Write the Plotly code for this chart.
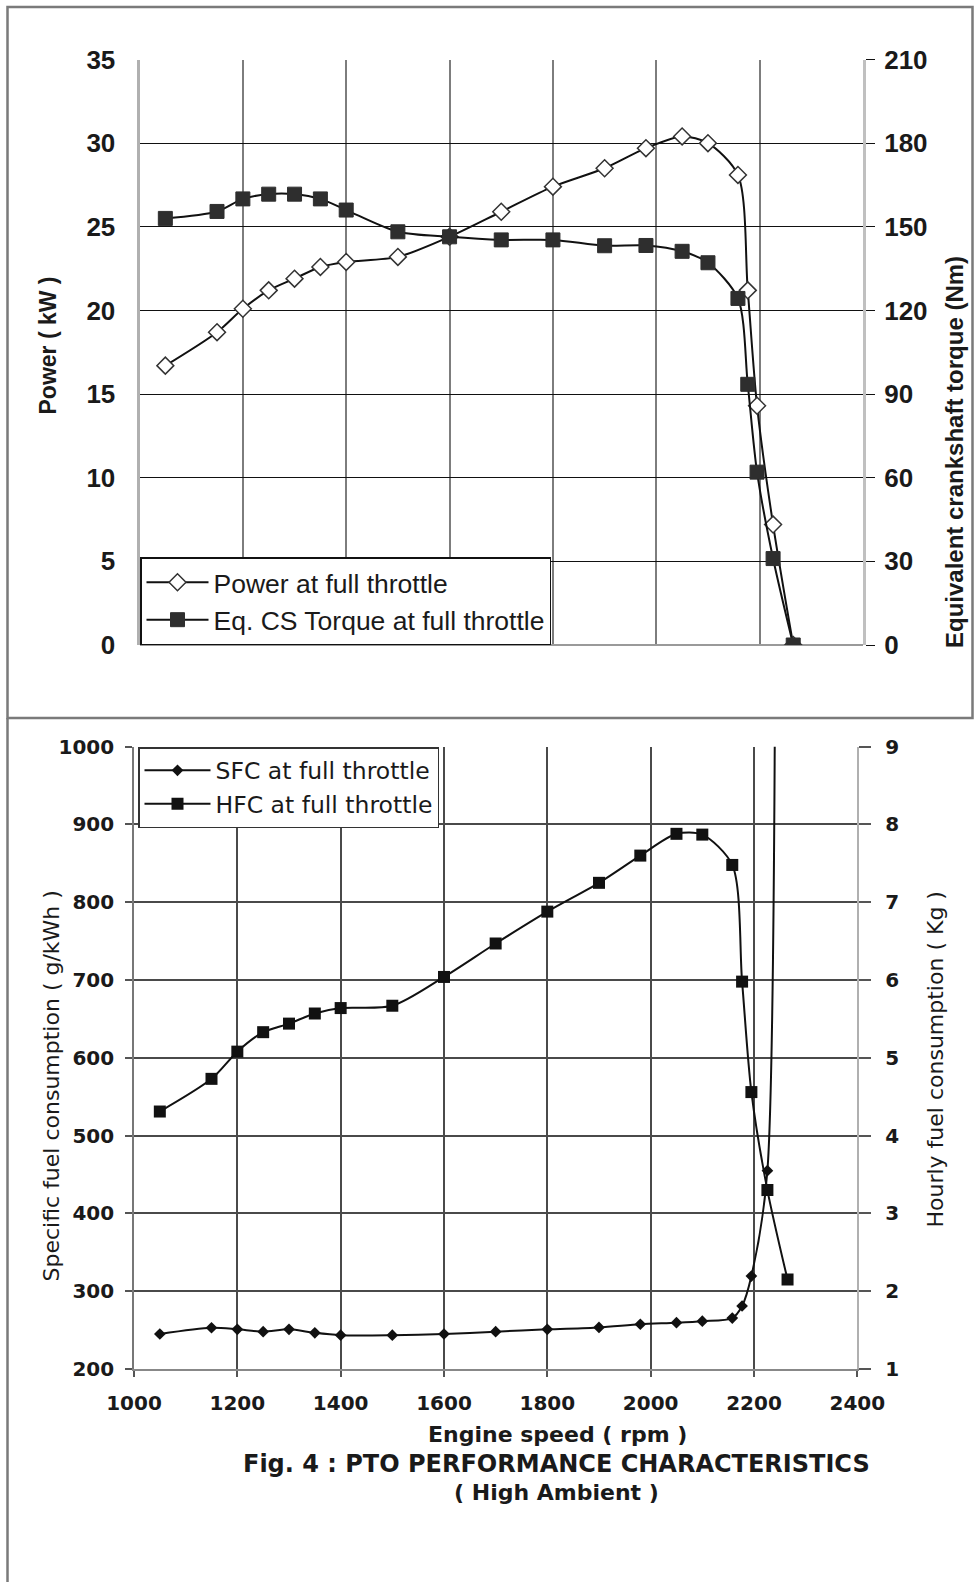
import plotly.graph_objects as go

# ---------------- data ----------------
rpm = [1050, 1150, 1200, 1250, 1300, 1350, 1400, 1500, 1600, 1700,
       1800, 1900, 1980, 2050, 2100, 2158, 2177, 2195, 2226, 2265]

power_kw = [16.7, 18.7, 20.1, 21.2, 21.9, 22.6, 22.9, 23.2, 24.4, 25.9,
            27.4, 28.5, 29.7, 30.4, 30.0, 28.1, 21.2, 14.3, 7.2, 0.0]

torque_nm = [153.0, 155.5, 160.0, 161.7, 161.7, 160.0, 156.0, 148.2, 146.4, 145.3,
             145.3, 143.2, 143.3, 141.2, 137.1, 124.3, 93.5, 62.0, 31.0, 0.0]

# last SFC value: power ~0 at 2265 rpm -> SFC goes off the top of the scale
sfc_g_kwh = [245, 253, 251, 248, 251, 246.5, 243.5, 243.5, 245, 248,
             251, 253.5, 257.5, 259.5, 261.5, 265.5, 281, 319.5, 455, 50000]

hfc_kg = [4.31, 4.73, 5.08, 5.33, 5.44, 5.57, 5.64, 5.67, 6.04, 6.47,
          6.88, 7.25, 7.60, 7.88, 7.87, 7.48, 5.98, 4.56, 3.30, 2.15]

rpm_ticks = [1000, 1200, 1400, 1600, 1800, 2000, 2200, 2400]
power_ticks = [0, 5, 10, 15, 20, 25, 30, 35]
torque_ticks = [0, 30, 60, 90, 120, 150, 180, 210]
sfc_ticks = [200, 300, 400, 500, 600, 700, 800, 900, 1000]
hfc_ticks = [1, 2, 3, 4, 5, 6, 7, 8, 9]

series_names = ["Power at full throttle", "Eq. CS Torque at full throttle",
                "SFC at full throttle", "HFC at full throttle"]

# ---------------- layout helpers ----------------
W, H = 974, 1582
def px(x):
    return x / W
def py(y):
    return 1 - y / H

TOP_FONT = "Liberation Sans, Arial, sans-serif"
BOT_FONT = "DejaVu Sans, Verdana, sans-serif"
INK = "#1a1a1a"

fig = go.Figure()

# ---------------- top chart ----------------
fig.add_trace(go.Scatter(
    x=rpm, y=power_kw, name=series_names[0], mode="lines+markers",
    line=dict(color="#111111", width=2, shape="spline", smoothing=0.8),
    marker=dict(symbol="diamond", size=13, color="white",
                line=dict(color="#333333", width=1.5)),
    xaxis="x", yaxis="y", legend="legend", legendgroup="a"))

fig.add_trace(go.Scatter(
    x=rpm, y=torque_nm, name=series_names[1], mode="lines+markers",
    line=dict(color="#111111", width=2, shape="spline", smoothing=0.8),
    marker=dict(symbol="square", size=14, color="#2e2e2e",
                line=dict(color="#2e2e2e", width=1)),
    xaxis="x", yaxis="y2", legend="legend", legendgroup="b"))

# ---------------- bottom chart ----------------
fig.add_trace(go.Scatter(
    x=rpm, y=sfc_g_kwh, name=series_names[2], mode="lines+markers",
    line=dict(color="#111111", width=2, shape="spline", smoothing=0.8),
    marker=dict(symbol="diamond", size=9, color="#111111"),
    xaxis="x2", yaxis="y3", legend="legend2", legendgroup="c", cliponaxis=True))

fig.add_trace(go.Scatter(
    x=rpm, y=hfc_kg, name=series_names[3], mode="lines+markers",
    line=dict(color="#111111", width=2, shape="spline", smoothing=0.8),
    marker=dict(symbol="square", size=12, color="#111111"),
    xaxis="x2", yaxis="y4", legend="legend2", legendgroup="d"))

top_dom_x = [px(139.5), px(863)]
top_dom_y = [py(645), py(59.5)]
bot_dom_x = [px(134), px(857.3)]
bot_dom_y = [py(1369), py(746.7)]

tick_top = dict(family=TOP_FONT, size=26, color=INK, weight="bold")
tick_bot = dict(family=BOT_FONT, size=20, color=INK, weight="bold")

fig.update_layout(
    width=W, height=H,
    margin=dict(l=0, r=0, t=0, b=0, pad=0, autoexpand=False),
    paper_bgcolor="white", plot_bgcolor="white",
    xaxis=dict(domain=top_dom_x, anchor="y", range=[1000, 2400],
               tickvals=rpm_ticks, showticklabels=False, ticks="",
               showgrid=True, gridcolor="#7d7d7d", gridwidth=2,
               showline=False, zeroline=False, automargin=False),
    yaxis=dict(domain=top_dom_y, anchor="x", range=[0, 35], tickvals=power_ticks,
               tickfont=tick_top, ticks="", ticklabelstandoff=16,
               showgrid=True, gridcolor="#111111", gridwidth=1.3,
               showline=True, linecolor="#b0b0b0", linewidth=3,
               zeroline=True, zerolinecolor="#9a9a9a", zerolinewidth=2,
               automargin=False),
    yaxis2=dict(overlaying="y", anchor="x", side="right", range=[0, 210],
                tickvals=torque_ticks, tickfont=tick_top,
                ticks="outside", ticklen=9, tickcolor="#111111", tickwidth=1.3,
                ticklabelstandoff=4,
                showgrid=False, showline=True, linecolor="#c0c0c0", linewidth=3,
                zeroline=False, automargin=False),
    xaxis2=dict(domain=bot_dom_x, anchor="y3", range=[1000, 2400],
                tickvals=rpm_ticks, tickfont=tick_bot,
                ticks="outside", ticklen=6, tickcolor="#555555", tickwidth=1.5,
                ticklabelstandoff=9,
                showgrid=True, gridcolor="#4a4a4a", gridwidth=1.6,
                showline=True, linecolor="#888888", linewidth=1.6, zeroline=False,
                automargin=False),
    yaxis3=dict(domain=bot_dom_y, anchor="x2", range=[200, 1000], tickvals=sfc_ticks,
                tickfont=tick_bot, ticks="outside", ticklen=7, tickcolor="#555555",
                tickwidth=1.5, ticklabelstandoff=7,
                showgrid=True, gridcolor="#4a4a4a", gridwidth=1.6,
                showline=True, linecolor="#777777", linewidth=1.6, zeroline=False,
                automargin=False),
    yaxis4=dict(overlaying="y3", anchor="x2", side="right", range=[1, 9],
                tickvals=hfc_ticks, tickfont=tick_bot,
                ticks="outside", ticklen=12, tickcolor="#555555", tickwidth=1.5,
                ticklabelstandoff=10,
                showgrid=False, showline=True, linecolor="#b0b0b0", linewidth=2,
                zeroline=False, automargin=False),
    legend=dict(x=px(140), y=py(645), xanchor="left", yanchor="bottom",
                bgcolor="white", bordercolor="#111111", borderwidth=1.5,
                font=dict(family=TOP_FONT, size=26.5, color=INK),
                tracegroupgap=0, traceorder="grouped", itemwidth=62),
    legend2=dict(x=px(138), y=py(747), xanchor="left", yanchor="top",
                 bgcolor="white", bordercolor="#333333", borderwidth=1.5,
                 font=dict(family=BOT_FONT, size=23.5, color=INK),
                 tracegroupgap=0, traceorder="grouped", itemwidth=66),
    showlegend=True,
)

ann = []
def add_text(text, x, y, size, family, bold=True, angle=0):
    ann.append(dict(text=text, x=px(x), y=py(y), xref="paper", yref="paper",
                    xanchor="center", yanchor="middle", showarrow=False,
                    textangle=angle,
                    font=dict(family=family, size=size, color=INK,
                              weight="bold" if bold else "normal")))

add_text("Power ( kW )", 47.5, 346, 23, TOP_FONT, True, -90)
add_text("Equivalent crankshaft torque (Nm)", 954, 452, 24, TOP_FONT, True, -90)
add_text("Specific fuel consumption ( g/kWh )", 50.5, 1086, 22, BOT_FONT, False, -90)
add_text("Hourly fuel consumption ( Kg )", 934.5, 1060, 22, BOT_FONT, False, -90)
add_text("Engine speed ( rpm )", 557, 1434, 22, BOT_FONT, True)
add_text("Fig. 4 : PTO PERFORMANCE CHARACTERISTICS", 556, 1463.5, 24, BOT_FONT, True)
add_text("( High Ambient )", 556, 1492, 22, BOT_FONT, True)
fig.update_layout(annotations=ann)

# panel frames
frame = dict(xref="paper", yref="paper", line=dict(color="#7a7a7a", width=2.5))
fig.update_layout(shapes=[
    dict(type="rect", x0=px(7.5), x1=px(972.5), y0=py(718), y1=py(7), **frame),
    dict(type="line", x0=px(7.5), x1=px(7.5), y0=py(718), y1=0, **frame),
])

# remove the browser's default page margin so the figure starts at (0, 0)
page_css = ("document.body.style.margin='0';document.body.style.padding='0';"
            "document.documentElement.style.overflow='hidden';")

fig.write_html("out.html", post_script=page_css,
               config={"displayModeBar": False})
